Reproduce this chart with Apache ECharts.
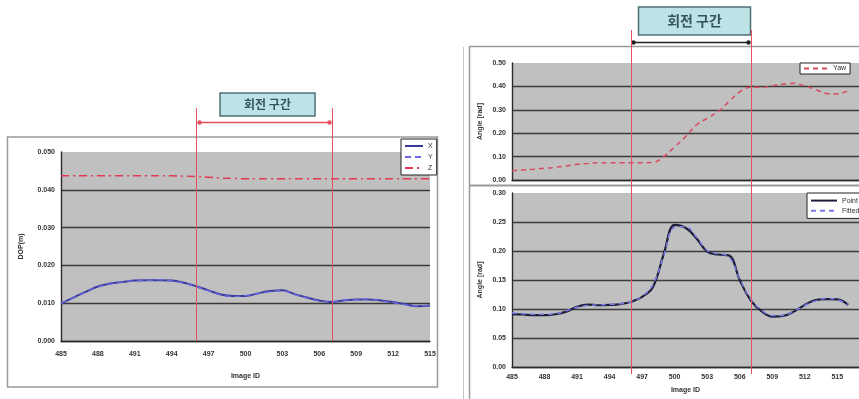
<!DOCTYPE html>
<html>
<head>
<meta charset="utf-8">
<script src="https://cdn.jsdelivr.net/npm/echarts@6/dist/echarts.min.js"></script>
<style>
  html, body { margin: 0; padding: 0; background: #fff; }
  #chart { width: 859px; height: 399px; }
</style>
</head>
<body>
<div id="chart"></div>
<script>
// image IDs (left chart 485..515, right charts 485..517)
const imageIdsLeft = ['485','486','487','488','489','490','491','492','493','494','495','496','497','498','499','500',
  '501','502','503','504','505','506','507','508','509','510','511','512','513','514','515'];
const imageIdsRight = ['485','486','487','488','489','490','491','492','493','494','495','496','497','498','499','500',
  '501','502','503','504','505','506','507','508','509','510','511','512','513','514','515','516','517'];

// rotation interval (회전 구간)
const rotationStart = '496';
const rotationEnd = '507';

// left chart: X / Y / Z
const seriesX = [0.0099,0.0115,0.0130,0.0144,0.0152,0.0156,0.0160,0.0161,0.0161,0.0160,0.0154,0.0145,0.0134,0.0123,0.0119,0.0119,
  0.0126,0.0132,0.0134,0.0124,0.0115,0.0107,0.0103,0.0107,0.0110,0.0110,0.0107,0.0103,0.0097,0.0092,0.0094];
const seriesY = [0.0100,0.0114,0.0129,0.0143,0.0151,0.0157,0.0159,0.0161,0.0162,0.0159,0.0153,0.0144,0.0133,0.0122,0.0118,0.0120,
  0.0125,0.0131,0.0133,0.0123,0.0114,0.0106,0.0104,0.0108,0.0109,0.0111,0.0106,0.0102,0.0096,0.0093,0.0095];
const seriesZ = [0.0437,0.0437,0.0437,0.0437,0.0437,0.0437,0.0437,0.0437,0.0437,0.0437,0.0436,0.0435,0.0433,0.0431,0.0430,0.0429,
  0.0429,0.0429,0.0429,0.0429,0.0429,0.0429,0.0429,0.0429,0.0429,0.0429,0.0429,0.0429,0.0429,0.0429,0.0429];

// right top chart
const seriesYaw = [0.040,0.043,0.046,0.050,0.054,0.060,0.067,0.071,0.074,0.074,0.074,0.074,0.074,0.075,0.100,0.142,
  0.185,0.235,0.264,0.292,0.335,0.377,0.396,0.396,0.402,0.410,0.413,0.402,0.387,0.370,0.368,0.382];

// right bottom chart
const seriesPoint = [0.091,0.0905,0.0895,0.0895,0.091,0.0955,0.104,0.1075,0.1065,0.107,0.1085,0.1125,0.121,0.138,0.195,0.245,
  0.240,0.222,0.199,0.194,0.1925,0.150,0.1155,0.0965,0.087,0.088,0.0955,0.107,0.1155,0.117,0.1165,0.107];
const seriesFitted = [0.093,0.092,0.091,0.091,0.092,0.097,0.103,0.106,0.107,0.108,0.109,0.113,0.122,0.142,0.192,0.241,
  0.242,0.224,0.201,0.195,0.190,0.152,0.117,0.098,0.089,0.089,0.096,0.106,0.114,0.118,0.116,0.108];

const tickFont = { fontSize: 7, fontWeight: 'bold', color: '#333', fontFamily: 'Liberation Sans, Arial' };
const plotBg = '#c0c0c0';
const gridLine = { lineStyle: { color: '#3a3a3a', width: 1.4 } };
const axisDark = { show: true, lineStyle: { color: '#2a2a2a', width: 1.4 } };
const legendBase = {
  orient: 'vertical', backgroundColor: '#fff', borderColor: '#222', borderWidth: 1,
  itemStyle: { opacity: 0 }, textStyle: { fontSize: 7, color: '#333' }
};

const chart = echarts.init(document.getElementById('chart'), null, { renderer: 'canvas' });

chart.setOption({
  animation: false,
  backgroundColor: '#fff',
  textStyle: { fontFamily: 'Liberation Sans, Arial' },
  grid: [
    { left: 61, top: 152, width: 369, height: 189, show: true, backgroundColor: plotBg, borderWidth: 0 },
    { left: 512, top: 63, width: 354, height: 117, show: true, backgroundColor: plotBg, borderWidth: 0 },
    { left: 512, top: 193, width: 354, height: 174, show: true, backgroundColor: plotBg, borderWidth: 0 }
  ],
  xAxis: [
    { gridIndex: 0, type: 'category', data: imageIdsLeft, boundaryGap: false,
      axisLine: axisDark, axisTick: { show: false },
      axisLabel: Object.assign({ interval: 2, margin: 10 }, tickFont),
      name: 'Image ID', nameLocation: 'middle', nameGap: 32, nameTextStyle: tickFont },
    { gridIndex: 1, type: 'category', data: imageIdsRight, boundaryGap: false,
      axisLine: axisDark, axisTick: { show: false }, axisLabel: { show: false } },
    { gridIndex: 2, type: 'category', data: imageIdsRight, boundaryGap: false,
      axisLine: axisDark, axisTick: { show: false },
      axisLabel: Object.assign({ interval: 2, margin: 7 }, tickFont),
      name: 'Image ID', nameLocation: 'middle', nameGap: 20, nameTextStyle: tickFont }
  ],
  yAxis: [
    { gridIndex: 0, type: 'value', min: 0, max: 0.05, interval: 0.01,
      axisLine: axisDark, axisTick: { show: false },
      axisLabel: Object.assign({ margin: 6, formatter: v => v.toFixed(3) }, tickFont),
      splitLine: Object.assign({ showMaxLine: false }, gridLine),
      name: 'DOP(m)', nameLocation: 'middle', nameGap: 36, nameTextStyle: tickFont },
    { gridIndex: 1, type: 'value', min: 0, max: 0.5, interval: 0.1,
      axisLine: axisDark, axisTick: { show: false },
      axisLabel: Object.assign({ margin: 6, formatter: v => v.toFixed(2) }, tickFont),
      splitLine: Object.assign({ showMaxLine: false }, gridLine),
      name: 'Angle [rad]', nameLocation: 'middle', nameGap: 28, nameTextStyle: tickFont },
    { gridIndex: 2, type: 'value', min: 0, max: 0.3, interval: 0.05,
      axisLine: axisDark, axisTick: { show: false },
      axisLabel: Object.assign({ margin: 6, formatter: v => v.toFixed(2) }, tickFont),
      splitLine: Object.assign({ showMaxLine: false }, gridLine),
      name: 'Angle [rad]', nameLocation: 'middle', nameGap: 28, nameTextStyle: tickFont }
  ],
  legend: [
    Object.assign({ data: ['X', 'Y', 'Z'], left: 401, top: 139, itemWidth: 18, itemHeight: 10, itemGap: 3,
      padding: [3, 4, 3, 3] }, legendBase),
    Object.assign({ data: ['Yaw'], left: 800, top: 63, itemWidth: 24, itemHeight: 8, itemGap: 2,
      padding: [2, 4, 2, 3] }, legendBase),
    Object.assign({ data: ['Point', 'Fitted'], left: 807, top: 193, itemWidth: 26, itemHeight: 9, itemGap: 3,
      padding: [4, 4, 4, 3] }, legendBase)
  ],
  series: [
    { name: 'X', type: 'line', xAxisIndex: 0, yAxisIndex: 0, data: seriesX, smooth: 0.4, symbol: 'none',
      lineStyle: { color: '#3a3a9a', width: 2 }, itemStyle: { color: '#3a3a9a' } },
    { name: 'Y', type: 'line', xAxisIndex: 0, yAxisIndex: 0, data: seriesY, smooth: 0.4, symbol: 'none',
      lineStyle: { color: '#6868e0', width: 1.5, type: [6, 4] }, itemStyle: { color: '#6868e0' } },
    { name: 'Z', type: 'line', xAxisIndex: 0, yAxisIndex: 0, data: seriesZ, smooth: 0.4, symbol: 'none',
      lineStyle: { color: '#e03a50', width: 1.5, type: [8, 4, 2, 4] }, itemStyle: { color: '#e03a50' } },
    { name: 'Yaw', type: 'line', xAxisIndex: 1, yAxisIndex: 1, data: seriesYaw, smooth: 0.4, symbol: 'none',
      lineStyle: { color: '#d94a60', width: 1.5, type: [5, 4] }, itemStyle: { color: '#d94a60' } },
    { name: 'Point', type: 'line', xAxisIndex: 2, yAxisIndex: 2, data: seriesPoint, smooth: 0.4, symbol: 'none',
      lineStyle: { color: '#1e1e3a', width: 2.2 }, itemStyle: { color: '#1e1e3a' } },
    { name: 'Fitted', type: 'line', xAxisIndex: 2, yAxisIndex: 2, data: seriesFitted, smooth: 0.4, symbol: 'none',
      lineStyle: { color: '#7a7ae8', width: 1.5, type: [5, 4] }, itemStyle: { color: '#7a7ae8' } }
  ]
});

// annotation positions from the axes (snapped to pixel centres)
const snap = v => Math.round(v) + 0.5;
const lx0 = snap(chart.convertToPixel({ xAxisIndex: 0 }, rotationStart));
const lx1 = snap(chart.convertToPixel({ xAxisIndex: 0 }, rotationEnd));
const rx0 = snap(chart.convertToPixel({ xAxisIndex: 2 }, rotationStart));
const rx1 = snap(chart.convertToPixel({ xAxisIndex: 2 }, rotationEnd));

function titleBox(cx, y, w, h, size) {
  return {
    type: 'group', z: 60,
    children: [
      { type: 'rect', shape: { x: cx - w / 2, y: y, width: w, height: h },
        style: { fill: '#bde3e6', stroke: '#4d7075', lineWidth: 1.5 } },
      { type: 'text', style: { x: cx, y: y + h / 2, text: '회전 구간', align: 'center', verticalAlign: 'middle',
        fill: '#36555a', fontSize: size, fontWeight: 'bold', fontFamily: 'Noto Sans CJK KR' } }
    ]
  };
}
function vline(x, y0, y1) {
  return { type: 'line', z: 50, shape: { x1: x, y1: y0, x2: x, y2: y1 },
    style: { stroke: '#e25060', lineWidth: 1 } };
}
function arrow(xa, xb, y, color) {
  return {
    type: 'group', z: 55,
    children: [
      { type: 'line', shape: { x1: xa, y1: y, x2: xb, y2: y }, style: { stroke: color, lineWidth: 1.3 } },
      { type: 'circle', shape: { cx: xa, cy: y, r: 2.2 }, style: { fill: color } },
      { type: 'circle', shape: { cx: xb, cy: y, r: 2.2 }, style: { fill: color } }
    ]
  };
}

chart.setOption({
  graphic: [
    // chart frames
    { type: 'rect', z: -5, shape: { x: 7.5, y: 137, width: 430, height: 250 },
      style: { fill: '#fff', stroke: '#9a9a9a', lineWidth: 1.5 } },
    { type: 'line', z: -5, shape: { x1: 463.5, y1: 47, x2: 463.5, y2: 399 },
      style: { stroke: '#c4c4c4', lineWidth: 1 } },
    { type: 'rect', z: -5, shape: { x: 469.5, y: 46.5, width: 400, height: 360 },
      style: { fill: '#fff', stroke: '#9a9a9a', lineWidth: 1.5 } },
    { type: 'line', z: -5, shape: { x1: 469, y1: 185.5, x2: 859, y2: 185.5 },
      style: { stroke: '#9a9a9a', lineWidth: 2 } },
    // rotation interval markers
    vline(lx0, 108, 341), vline(lx1, 108, 341),
    vline(rx0, 30, 374), vline(rx1, 30, 374),
    arrow(lx0 + 3, lx1 - 3, 122.5, '#e25060'),
    arrow(rx0 + 2, rx1 - 3, 42.5, '#222'),
    titleBox((lx0 + lx1) / 2 + 3, 93, 95, 23, 12),
    titleBox((rx0 + rx1) / 2 + 3, 7, 112, 28, 14)
  ]
});
</script>
</body>
</html>
